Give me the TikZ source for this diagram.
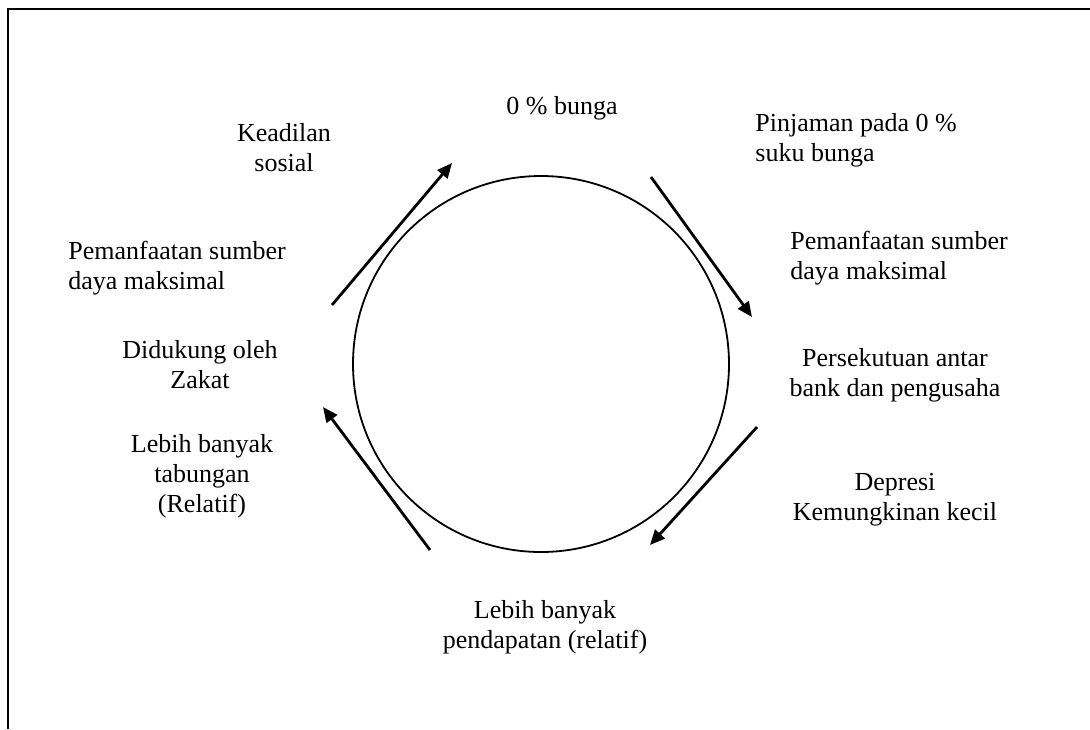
\documentclass[tikz,border=0pt]{standalone}
\usepackage{fontspec}
\setmainfont{Liberation Serif}
\usetikzlibrary{%
	arrows.meta%
}
\tikzset{
	lbl/.style={align=center, inner sep=0pt, font=\fontsize{13}{15}\selectfont},
	lbll/.style={lbl, align=left, anchor=west},
	flow/.style={-{Triangle[length=7.5pt,width=6.5pt]}, line width=1.4pt},
}

\begin{document}
\begin{tikzpicture}[x=0.5pt,y=-0.5pt]
		\useasboundingbox (0,0) rectangle (1090,729);
		\draw[line width=1.2pt] (8,729) -- (8,9) -- (1090,9);
		\node[draw, circle, line width=0.9pt, minimum size=188pt, inner sep=0pt] (cyc) at (541,364) {};
		\node[lbl] (bunga) at (562,108) {0 \% bunga};
		\node[lbll] (pinjam) at (755,140) {Pinjaman pada 0 \%\\suku bunga};
		\node[lbll] (manfR) at (790,258) {Pemanfaatan sumber\\daya maksimal};
		\node[lbl] (sekutu) at (895,375) {Persekutuan antar\\bank dan pengusaha};
		\node[lbl] (depresi) at (895,500) {Depresi\\Kemungkinan kecil};
		\node[lbl] (dapat) at (545,627) {Lebih banyak\\pendapatan (relatif)};
		\node[lbl] (tabung) at (202,476) {Lebih banyak\\tabungan\\(Relatif)};
		\node[lbl] (zakat) at (200,365) {Didukung oleh\\Zakat};
		\node[lbll] (manfL) at (68,268) {Pemanfaatan sumber\\daya maksimal};
		\node[lbl] (adil) at (284,148) {Keadilan\\sosial};
		\coordinate (a1s) at (332,305);
		\coordinate (a1e) at (452,163);
		\coordinate (a2s) at (651,177);
		\coordinate (a2e) at (752,317);
		\coordinate (a3s) at (757,427);
		\coordinate (a3e) at (650,545);
		\coordinate (a4s) at (430,550);
		\coordinate (a4e) at (323,407);
		\draw[flow] (a1s) -- (a1e);
		\draw[flow] (a2s) -- (a2e);
		\draw[flow] (a3s) -- (a3e);
		\draw[flow] (a4s) -- (a4e);
	\end{tikzpicture}
\end{document}
